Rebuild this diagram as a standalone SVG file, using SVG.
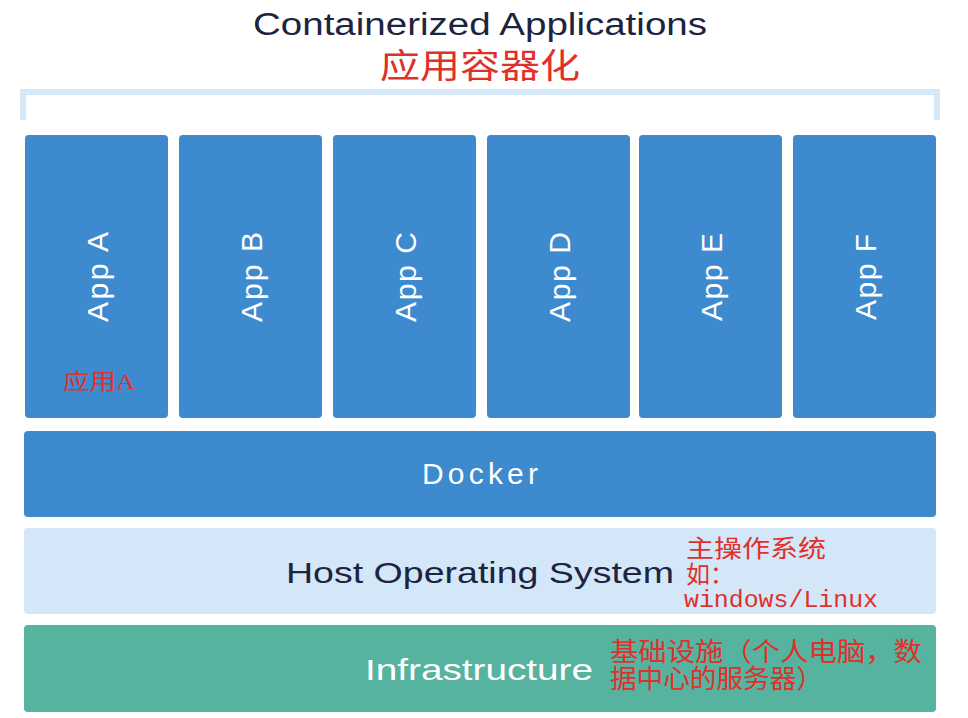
<svg xmlns="http://www.w3.org/2000/svg" width="968" height="718" viewBox="0 0 968 718">
<style>
.app{fill:#3d8acf}
.at{font-family:"Liberation Sans",sans-serif;font-size:30px;fill:#fff;text-anchor:middle;dominant-baseline:central}
.red{font-family:"Liberation Serif","Noto Sans CJK SC",serif;fill:#e0302a}
</style>
<rect width="968" height="718" fill="#fff"/>
<text x="480" y="35" font-family="'Liberation Sans',sans-serif" font-size="31" fill="#1c2440" text-anchor="middle" textLength="454" lengthAdjust="spacingAndGlyphs">Containerized Applications</text>
<text x="480" y="78" class="red" font-size="34" text-anchor="middle" textLength="200" lengthAdjust="spacingAndGlyphs">应用容器化</text>
<path d="M23 120V92H937V120" fill="none" stroke="#d6e9f8" stroke-width="6"/>
<g id="appA"><rect class="app" x="25" y="135" width="143" height="283" rx="4"/><text class="at" transform="translate(97,277) rotate(-90)" textLength="90">App A</text><text x="63" y="389" class="red" font-size="22" textLength="72" lengthAdjust="spacingAndGlyphs">应用A</text></g>
<g id="appB"><rect class="app" x="179" y="135" width="143" height="283" rx="4"/><text class="at" transform="translate(251,277) rotate(-90)" textLength="90">App B</text></g>
<g id="appC"><rect class="app" x="333" y="135" width="143" height="283" rx="4"/><text class="at" transform="translate(405,277) rotate(-90)" textLength="90">App C</text></g>
<g id="appD"><rect class="app" x="487" y="135" width="143" height="283" rx="4"/><text class="at" transform="translate(559,277) rotate(-90)" textLength="90">App D</text></g>
<g id="appE"><rect class="app" x="639" y="135" width="143" height="283" rx="4"/><text class="at" transform="translate(711,277) rotate(-90)" textLength="88">App E</text></g>
<g id="appF"><rect class="app" x="793" y="135" width="143" height="283" rx="4"/><text class="at" transform="translate(865,277) rotate(-90)" textLength="86">App F</text></g>
<g id="docker"><rect class="app" x="24" y="431" width="912" height="86" rx="4"/><text class="at" x="480" y="473" textLength="116">Docker</text></g>
<g id="host"><rect fill="#d3e7f8" x="24" y="528" width="912" height="86" rx="4"/><text x="480" y="583" font-family="'Liberation Sans',sans-serif" font-size="30" fill="#1c2440" text-anchor="middle" textLength="388" lengthAdjust="spacingAndGlyphs">Host Operating System</text>
<text x="686" y="557" class="red" font-size="24" textLength="140" lengthAdjust="spacingAndGlyphs">主操作系统</text><text x="686" y="583" class="red" font-size="24">如：</text><text x="684" y="607" font-family="'Liberation Mono',monospace" font-size="24" fill="#e0302a" textLength="194" lengthAdjust="spacingAndGlyphs">windows/Linux</text></g>
<g id="infra"><rect fill="#55b3a0" x="24" y="625" width="912" height="87" rx="4"/><text x="479" y="680" font-family="'Liberation Sans',sans-serif" font-size="30" fill="#fff" text-anchor="middle" textLength="228" lengthAdjust="spacingAndGlyphs">Infrastructure</text>
<text x="610" y="661" class="red" font-size="26" textLength="312" lengthAdjust="spacingAndGlyphs">基础设施（个人电脑，数</text><text x="610" y="688" class="red" font-size="26" textLength="213" lengthAdjust="spacingAndGlyphs">据中心的服务器）</text></g>
<g id="connectors"/>
</svg>
